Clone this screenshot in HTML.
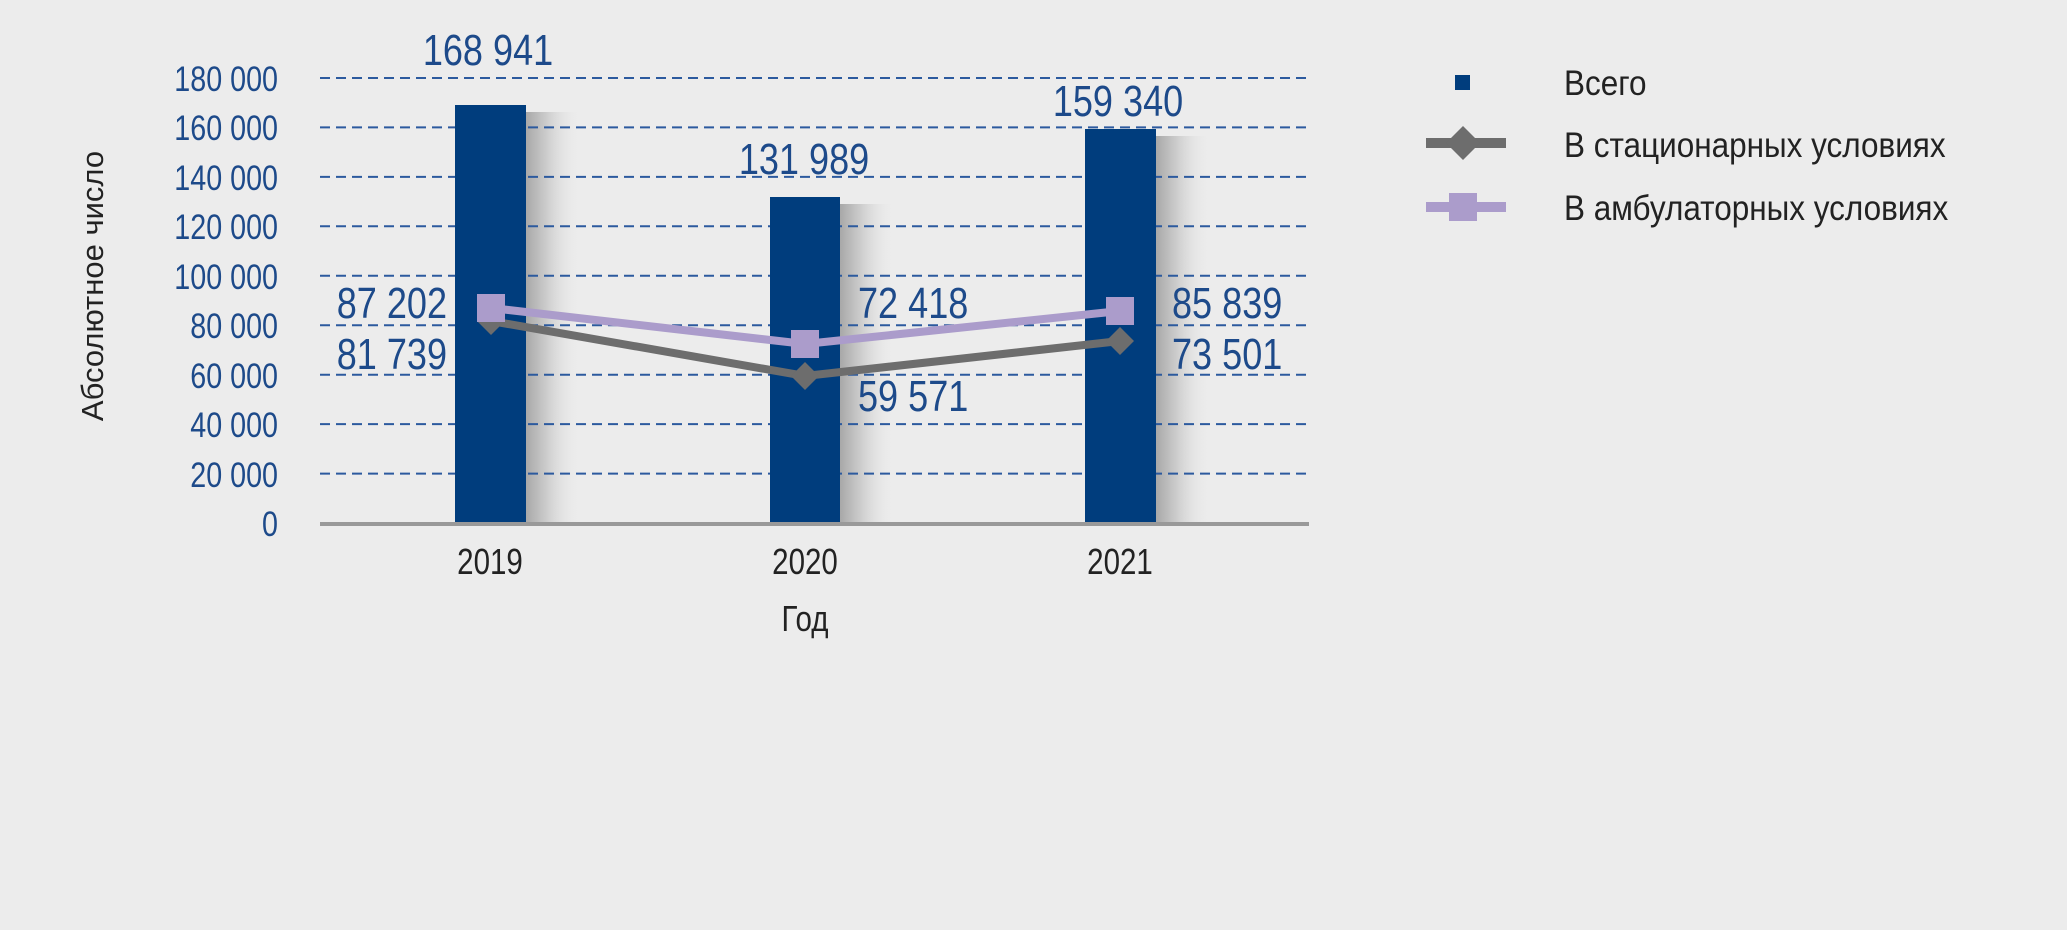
<!DOCTYPE html>
<html><head><meta charset="utf-8"><style>
html,body{margin:0;padding:0;background:#ececec;}
svg{display:block}
.n{font-family:"Liberation Sans",sans-serif;}
</style></head><body>
<svg width="2067" height="930" viewBox="0 0 2067 930" xmlns="http://www.w3.org/2000/svg">
<defs>
<linearGradient id="sh" x1="0" x2="1" y1="0" y2="0">
<stop offset="0" stop-color="#a8a8a8"/><stop offset="0.4" stop-color="#cfcfcf"/><stop offset="1" stop-color="#ececec" stop-opacity="0"/>
</linearGradient>
</defs>
<rect width="2067" height="930" fill="#ececec"/>
<!-- shadows -->
<rect x="526" y="112" width="55" height="411" fill="url(#sh)"/>
<rect x="840" y="204" width="55" height="319" fill="url(#sh)"/>
<rect x="1156" y="136" width="55" height="387" fill="url(#sh)"/>
<!-- grid -->
<g stroke="#2c5a9e" stroke-width="2" stroke-dasharray="10,6">
<line x1="320" x2="1309" y1="78" y2="78"/>
<line x1="320" x2="1309" y1="127.4" y2="127.4"/>
<line x1="320" x2="1309" y1="176.9" y2="176.9"/>
<line x1="320" x2="1309" y1="226.3" y2="226.3"/>
<line x1="320" x2="1309" y1="275.8" y2="275.8"/>
<line x1="320" x2="1309" y1="325.2" y2="325.2"/>
<line x1="320" x2="1309" y1="374.7" y2="374.7"/>
<line x1="320" x2="1309" y1="424.1" y2="424.1"/>
<line x1="320" x2="1309" y1="473.6" y2="473.6"/>
</g>
<!-- bars -->
<rect x="455" y="105" width="71" height="418" fill="#003d7d"/>
<rect x="770" y="197" width="70" height="326" fill="#003d7d"/>
<rect x="1085" y="129" width="71" height="394" fill="#003d7d"/>
<line x1="320" x2="1309" y1="524" y2="524" stroke="#999" stroke-width="4"/>
<!-- lines -->
<polyline points="491,321 805,376 1120,341" fill="none" stroke="#6d6d6d" stroke-width="8"/>
<g fill="#6d6d6d">
<polygon points="491,307 505,321 491,335 477,321"/>
<polygon points="805,362 819,376 805,390 791,376"/>
<polygon points="1120,327 1134,341 1120,355 1106,341"/>
</g>
<polyline points="491,308 805,344 1120,311" fill="none" stroke="#ab9ccb" stroke-width="8"/>
<g fill="#ab9ccb">
<rect x="477" y="294" width="28" height="28"/>
<rect x="791" y="330" width="28" height="28"/>
<rect x="1106" y="297" width="28" height="28"/>
</g>
<!-- y tick labels -->
<g class="n" font-size="35" fill="#1d4a8a" text-anchor="end">
<text transform="translate(278,91) scale(0.82,1)">180 000</text>
<text transform="translate(278,140) scale(0.82,1)">160 000</text>
<text transform="translate(278,190) scale(0.82,1)">140 000</text>
<text transform="translate(278,239) scale(0.82,1)">120 000</text>
<text transform="translate(278,289) scale(0.82,1)">100 000</text>
<text transform="translate(278,338) scale(0.82,1)">80 000</text>
<text transform="translate(278,388) scale(0.82,1)">60 000</text>
<text transform="translate(278,437) scale(0.82,1)">40 000</text>
<text transform="translate(278,487) scale(0.82,1)">20 000</text>
<text transform="translate(278,536) scale(0.82,1)">0</text>
</g>
<!-- data labels -->
<g class="n" font-size="44" fill="#1d4a8a">
<text text-anchor="middle" transform="translate(488,65) scale(0.82,1)">168 941</text>
<text text-anchor="middle" transform="translate(804,174) scale(0.82,1)">131 989</text>
<text text-anchor="middle" transform="translate(1118,116) scale(0.82,1)">159 340</text>
<text text-anchor="end" transform="translate(447,318) scale(0.82,1)">87 202</text>
<text text-anchor="end" transform="translate(447,369) scale(0.82,1)">81 739</text>
<text transform="translate(858,318) scale(0.82,1)">72 418</text>
<text transform="translate(858,411) scale(0.82,1)">59 571</text>
<text transform="translate(1172,318) scale(0.82,1)">85 839</text>
<text transform="translate(1172,369) scale(0.82,1)">73 501</text>
</g>
<!-- x labels -->
<g class="n" font-size="36" fill="#222" text-anchor="middle">
<text transform="translate(490,574) scale(0.82,1)">2019</text>
<text transform="translate(805,574) scale(0.82,1)">2020</text>
<text transform="translate(1120,574) scale(0.82,1)">2021</text>
<text transform="translate(805,631) scale(0.82,1)">Год</text>
</g>
<text transform="translate(103,286) rotate(-90)" font-family="Liberation Sans,sans-serif" font-size="31" fill="#222" text-anchor="middle">Абсолютное число</text>
<!-- legend -->
<rect x="1455" y="75" width="15" height="15" fill="#003d7d"/>
<line x1="1426" x2="1506" y1="143" y2="143" stroke="#6d6d6d" stroke-width="10"/>
<polygon points="1463,126 1480,143 1463,160 1446,143" fill="#6d6d6d"/>
<line x1="1426" x2="1506" y1="207" y2="207" stroke="#ab9ccb" stroke-width="10"/>
<rect x="1449" y="193" width="28" height="28" fill="#ab9ccb"/>
<g class="n" font-size="35" fill="#222">
<text transform="translate(1564,95) scale(0.9,1)">Всего</text>
<text transform="translate(1564,157) scale(0.9,1)">В стационарных условиях</text>
<text transform="translate(1564,220) scale(0.9,1)">В амбулаторных условиях</text>
</g>
</svg>
</body></html>
